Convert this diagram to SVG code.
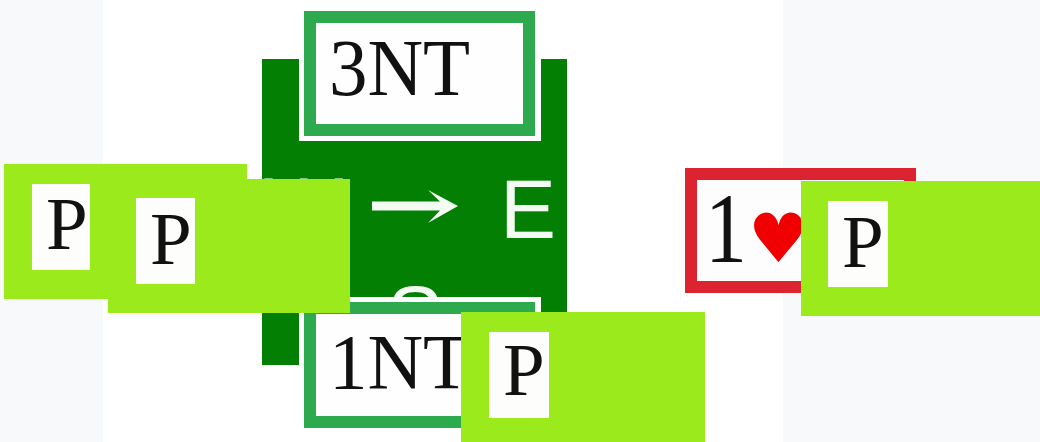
<svg xmlns="http://www.w3.org/2000/svg" width="1040" height="442" viewBox="0 0 1040 442">
<style>
.lime{fill:#9aea1c}
.pbox{fill:#fdfdfb}
.serif{font-family:"Liberation Serif","Times New Roman",serif;fill:#111}
.compass{font-family:"Liberation Sans",Arial,sans-serif;fill:#f4fbf2;font-size:84px}
.gbox{fill:#fdfefd;stroke:#2eaa4e;stroke-width:12}
</style>
<defs>
<clipPath id="compass-clip"><rect x="262" y="59" width="305" height="238"/></clipPath>
</defs>
<rect x="0" y="0" width="1040" height="442" fill="#ffffff"/>
<rect x="0" y="0" width="103" height="442" fill="#f8f9fb"/>
<rect x="783" y="0" width="257" height="442" fill="#f8f9fb"/>

<g id="compass">
<rect x="262" y="59" width="305" height="306" fill="#038003"/>
<text class="compass" x="264" y="236">W</text>
<path d="M372 201.5 H440 L428 190 L458 206 L428 223 L440 210.5 H372 Z" fill="#f4fbf2"/>
<text class="compass" x="500" y="238">E</text>
<text class="compass" x="415" y="344" text-anchor="middle" clip-path="url(#compass-clip)">S</text>
</g>

<g id="bid-3nt">
<rect x="299" y="6" width="242" height="135" fill="#ffffff"/>
<rect class="gbox" x="310" y="17" width="219" height="113"/>
<text class="serif" transform="translate(329,95) scale(1,1.05)" font-size="77">3NT</text>
</g>

<g id="bid-1nt">
<rect x="299" y="297" width="242" height="136" fill="#ffffff"/>
<rect class="gbox" x="310" y="308" width="219" height="114"/>
<text class="serif" transform="translate(329,388) scale(1,1.03)" font-size="77">1NT</text>
</g>

<g id="bid-1h">
<rect x="691" y="174" width="219" height="113" fill="#fdfdfd" stroke="#dc2430" stroke-width="12"/>
<text class="serif" transform="translate(705,262) scale(1,1.18)" font-size="84">1</text>
<text x="748" y="262" fill="#f00000" font-family="'DejaVu Sans',sans-serif" font-size="68">♥</text>
</g>

<g id="pass-a">
<rect class="lime" x="4" y="164" width="243" height="135"/>
<rect class="pbox" x="32" y="184" width="58" height="86"/>
<text class="serif" x="46" y="249" font-size="75">P</text>
</g>

<g id="pass-b">
<rect class="lime" x="108" y="179" width="242" height="134"/>
<rect class="pbox" x="136" y="198" width="59" height="86"/>
<text class="serif" x="150" y="264" font-size="75">P</text>
</g>

<g id="pass-c">
<rect class="lime" x="461" y="312" width="244" height="135"/>
<rect class="pbox" x="489" y="332" width="60" height="86"/>
<text class="serif" x="503" y="395" font-size="75">P</text>
</g>

<g id="pass-d">
<rect class="lime" x="801" y="181" width="243" height="135"/>
<rect class="pbox" x="828" y="201" width="60" height="86"/>
<text class="serif" x="842" y="267" font-size="75">P</text>
</g>

<g id="connectors"/>
</svg>
